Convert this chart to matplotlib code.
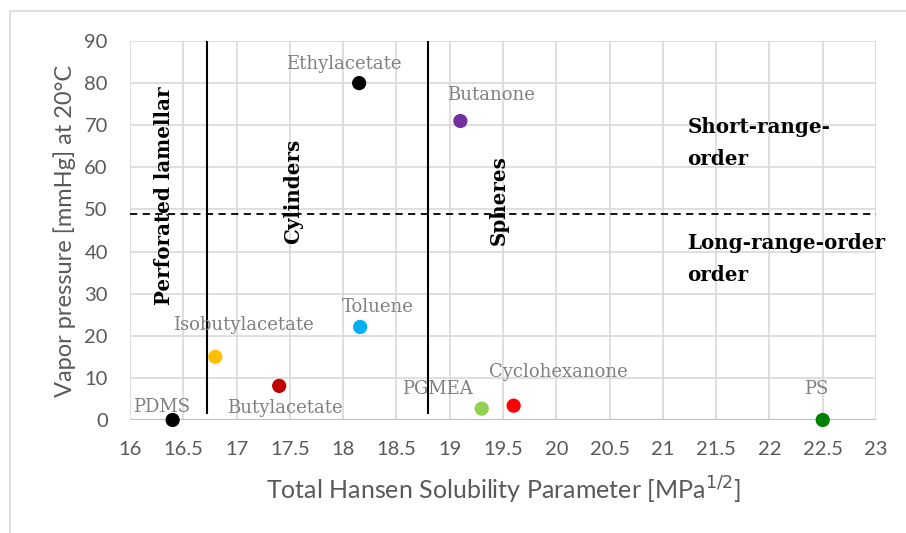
import matplotlib.pyplot as plt
from matplotlib.patches import Rectangle

# solvent data
solvents = ['PDMS', 'Isobutylacetate', 'Butylacetate', 'Ethylacetate', 'Toluene',
            'Butanone', 'PGMEA', 'Cyclohexanone', 'PS']
hansen = [16.4, 16.8, 17.4, 18.15, 18.16, 19.1, 19.3, 19.6, 22.5]
vapor = [0.0, 15.0, 8.1, 80.0, 22.1, 71.0, 2.7, 3.4, 0.0]
colors = ['#000000', '#FFC000', '#C00000', '#000000', '#00B0F0',
          '#7030A0', '#92D050', '#FF0000', '#008000']
label_offsets = [(-8, 9), (20, 23), (4, -16), (-11, 14), (13, 14),
                 (22, 19), (-32, 14), (32, 24), (-5, 22)]

boundaries = [16.72, 18.8]
order_limit = 49
xticks = [16 + 0.5 * i for i in range(15)]
xtick_labels = ['16', '16.5', '17', '17.5', '18', '18.5', '19', '19.5', '20',
                '20.5', '21', '21.5', '22', '22.5', '23']
yticks = list(range(0, 100, 10))

fig = plt.figure(figsize=(9.06, 5.33), dpi=100)
fig.patches.append(Rectangle((10 / 906, -0.1), 1.2, 1 - 11 / 533 + 0.1,
                             transform=fig.transFigure, fill=False,
                             edgecolor='#D9D9D9', linewidth=1.2))
ax = fig.add_axes([130 / 906, 113 / 533, 746 / 906, 379 / 533])

ax.set_xlim(16, 23)
ax.set_ylim(0, 90)
ax.set_xticks(xticks)
ax.set_xticklabels(xtick_labels)
ax.set_yticks(yticks)
ax.grid(True, color='#D9D9D9', linewidth=1.2)
ax.set_axisbelow(True)
for s in ax.spines.values():
    s.set_visible(False)
ax.axhline(0, color='#BFBFBF', linewidth=1.5, zorder=1)
ax.tick_params(length=0, labelsize=14.5, labelcolor='#595959')
ax.tick_params(axis='x', pad=15)
ax.tick_params(axis='y', pad=16)
for lab in ax.get_xticklabels() + ax.get_yticklabels():
    lab.set_family('Lato')

# phase boundaries
ax.vlines(boundaries, 1.5, 90, color='black', linewidth=1.5, zorder=2)
ax.axhline(order_limit, color='black', linestyle=(0, (4, 3)), linewidth=1.3, zorder=2)

ax.scatter(hansen, vapor, s=85, c=colors, zorder=4, clip_on=False)
for name, x, y, off in zip(solvents, hansen, vapor, label_offsets):
    ax.annotate(name, (x, y), xytext=off, textcoords='offset points',
                ha='center', va='center', color='#808080', fontsize=13,
                family='DejaVu Serif', zorder=5)

bold = dict(family='DejaVu Serif', fontweight='bold', fontsize=14.3, color='black', zorder=5)
ax.text(16.32, 53.2, 'Perforated lamellar', rotation=90, ha='center', va='center', **bold)
ax.text(17.53, 54.3, 'Cylinders', rotation=90, ha='center', va='center', **bold)
ax.text(19.46, 52.3, 'Spheres', rotation=90, ha='center', va='center', **bold)
ax.text(21.23, 65.8, 'Short-range-\norder', ha='left', va='center', linespacing=1.75, **bold)
ax.text(21.23, 38.2, 'Long-range-order\norder', ha='left', va='center', linespacing=1.75, **bold)

ax.set_xlabel('Total Hansen Solubility Parameter [MPa$^{1/2}$]', fontsize=18,
              color='#595959', family='Lato', labelpad=12)
ax.set_ylabel('Vapor pressure [mmHg] at 20°C', fontsize=17,
              color='#595959', family='Lato', labelpad=6)

fig.savefig('out.png', dpi=100)
